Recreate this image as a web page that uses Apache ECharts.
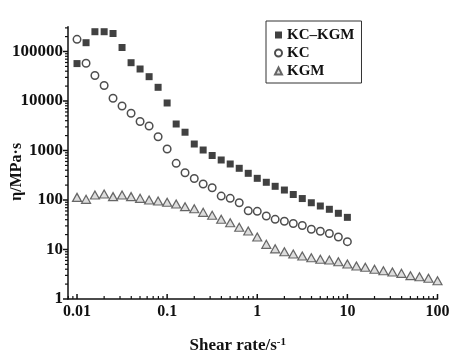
<!DOCTYPE html>
<html>
<head>
<meta charset="utf-8">
<script src="https://cdn.jsdelivr.net/npm/echarts@6/dist/echarts.min.js"></script>
<style>
  html, body { margin: 0; padding: 0; background: #fff; }
  #chart { width: 462px; height: 359px; }
</style>
</head>
<body>
<div id="chart"></div>
<script>
// ---- data ----
const rateKC = [0.01, 0.0126, 0.0158, 0.02, 0.0251, 0.0316, 0.0398, 0.0501, 0.0631, 0.0794,
  0.1, 0.126, 0.158, 0.2, 0.251, 0.316, 0.398, 0.501, 0.631, 0.794,
  1, 1.26, 1.58, 2, 2.51, 3.16, 3.98, 5.01, 6.31, 7.94, 10];
const rateKGM = [0.01, 0.0126, 0.0158, 0.02, 0.0251, 0.0316, 0.0398, 0.0501, 0.0631, 0.0794,
  0.1, 0.126, 0.158, 0.2, 0.251, 0.316, 0.398, 0.501, 0.631, 0.794,
  1, 1.26, 1.58, 2, 2.51, 3.16, 3.98, 5.01, 6.31, 7.94,
  10, 12.6, 15.8, 20, 25.1, 31.6, 39.8, 50.1, 63.1, 79.4, 100];
const etaKCKGM = [57000, 150600, 251000, 251000, 231000, 120500, 59400, 44300, 31000, 18900,
  9120, 3430, 2340, 1352, 1023, 792, 643, 534, 437, 346,
  274, 228, 189, 159, 129, 107, 88, 75.6, 64.9, 53.9, 44.6];
const etaKC = [176000, 57800, 32700, 20600, 11340, 7920, 5650, 3850, 3130, 1900,
  1072, 551, 356, 272, 211, 177, 120, 108, 88, 60.8,
  59, 47.5, 40.7, 37.3, 33.5, 30.5, 25.6, 23.4, 21.0, 17.9, 14.4];
const etaKGM = [113, 103, 126, 132, 117, 126, 117, 108, 100, 95.4,
  89.9, 83, 73.3, 66.7, 56.4, 49.1, 40.9, 34.8, 28.1, 23.6,
  17.9, 12.7, 10.3, 9.03, 8.11, 7.39, 6.83, 6.34, 6.14, 5.67,
  5.09, 4.64, 4.37, 3.98, 3.73, 3.51, 3.30, 2.96, 2.82, 2.62, 2.34];
const seriesNames = ['KC\u2013KGM', 'KC', 'KGM'];
const xTickLabels = ['0.01', '0.1', '1', '10', '100'];   // decades -2..2
const yTickLabels = ['1', '10', '100', '1000', '10000', '100000']; // decades 0..5
const xAxisName = 'Shear rate/s';
const yAxisName = '\u03B7/MPa\u00B7s';

// ---- axis range in decades ----
const X_MIN = -2.1, X_MAX = 2.0;
const Y_MIN = 0, Y_MAX = 5.5;

const FONT = '"Liberation Serif", "Times New Roman", serif';

function toPts(xs, ys) {
  return ys.map((y, i) => [Math.log10(xs[i]), Math.log10(y)]);
}
function isInt(v) { return Math.abs(v - Math.round(v)) < 1e-6; }

// log tick marks (major decades + minor 2..9)
const tickData = [];
for (let e = -3; e <= 2; e++) {
  for (let k = 1; k <= 9; k++) {
    const v = Math.log10(k) + e;
    if (v >= X_MIN - 1e-9 && v <= X_MAX + 1e-9) tickData.push([v, Y_MIN, 0, k === 1 ? 1 : 0]);
  }
}
for (let e = 0; e <= 5; e++) {
  for (let k = 1; k <= 9; k++) {
    const v = Math.log10(k) + e;
    if (v >= Y_MIN - 1e-9 && v <= Y_MAX + 1e-9) tickData.push([X_MIN, v, 1, k === 1 ? 1 : 0]);
  }
}

const chart = echarts.init(document.getElementById('chart'), null, { renderer: 'canvas' });
chart.setOption({
  animation: false,
  backgroundColor: '#fff',
  grid: { left: 68, right: 24.5, top: 26.75, bottom: 60, containLabel: false, outerBoundsMode: 'none' },
  legend: {
    orient: 'vertical',
    left: 266, top: 21,
    padding: [5, 7, 3, 8],
    itemGap: 0,
    itemWidth: 7, itemHeight: 7,
    borderColor: '#333', borderWidth: 1,
    textStyle: { fontFamily: FONT, fontWeight: 'bold', fontSize: 15, color: '#111', lineHeight: 18 },
    data: [
      { name: seriesNames[0], icon: 'rect' },
      { name: seriesNames[1], icon: 'circle' },
      { name: seriesNames[2], icon: 'triangle' }
    ]
  },
  xAxis: {
    type: 'value', min: X_MIN, max: X_MAX, interval: 0.1,
    axisLine: { show: true, onZero: false, lineStyle: { color: '#111', width: 1.5 } },
    axisTick: { show: false },
    splitLine: { show: false },
    axisLabel: {
      margin: 5, fontFamily: FONT, fontWeight: 'bold', fontSize: 16, color: '#111',
      formatter: v => isInt(v) ? xTickLabels[Math.round(v) + 2] : ''
    },
    name: xAxisName + '{sup|-1}',
    nameLocation: 'middle', nameGap: 38, nameMoveOverlap: false,
    nameTextStyle: {
      fontFamily: FONT, fontWeight: 'bold', fontSize: 17, color: '#111',
      padding: [0, 30, 0, 0],
      rich: { sup: { fontFamily: FONT, fontWeight: 'bold', fontSize: 11, verticalAlign: 'top', padding: [0, 0, 7, 0], color: '#111' } }
    }
  },
  yAxis: {
    type: 'value', min: Y_MIN, max: Y_MAX, interval: 0.5,
    axisLine: { show: true, onZero: false, lineStyle: { color: '#111', width: 1.5 } },
    axisTick: { show: false },
    splitLine: { show: false },
    axisLabel: {
      margin: 5, fontFamily: FONT, fontWeight: 'bold', fontSize: 17, color: '#111',
      formatter: v => isInt(v) ? yTickLabels[Math.round(v)] : ''
    },
    name: yAxisName,
    nameLocation: 'middle', nameGap: 43, nameMoveOverlap: false,
    nameTextStyle: { fontFamily: FONT, fontWeight: 'bold', fontSize: 16, color: '#111', padding: [0, 18, 0, 0] }
  },
  series: [
    {
      type: 'custom', name: 'ticks', silent: true, clip: false, z: 1,
      data: tickData,
      renderItem: function (params, api) {
        const p = api.coord([api.value(0), api.value(1)]);
        const isY = api.value(2) === 1;
        const major = api.value(3) === 1;
        const len = major ? 5 : 3;
        const shape = isY
          ? { x1: p[0], y1: p[1], x2: p[0] - len, y2: p[1] }
          : { x1: p[0], y1: p[1], x2: p[0], y2: p[1] - len };
        return { type: 'line', shape: shape, style: { stroke: '#111', lineWidth: major ? 1.5 : 1.2 } };
      }
    },
    {
      type: 'scatter', name: seriesNames[0], data: toPts(rateKC, etaKCKGM),
      symbol: 'rect', symbolSize: 7, z: 3,
      itemStyle: { color: '#111' }
    },
    {
      type: 'scatter', name: seriesNames[1], data: toPts(rateKC, etaKC),
      symbol: 'circle', symbolSize: 7.5, z: 3,
      itemStyle: { color: '#fff', borderColor: '#222', borderWidth: 1.5 }
    },
    {
      type: 'scatter', name: seriesNames[2], data: toPts(rateKGM, etaKGM),
      symbol: 'triangle', symbolSize: [9, 8], z: 3,
      itemStyle: { color: '#d4d4d4', borderColor: '#444', borderWidth: 1.2 }
    }
  ]
});
</script>
</body>
</html>
